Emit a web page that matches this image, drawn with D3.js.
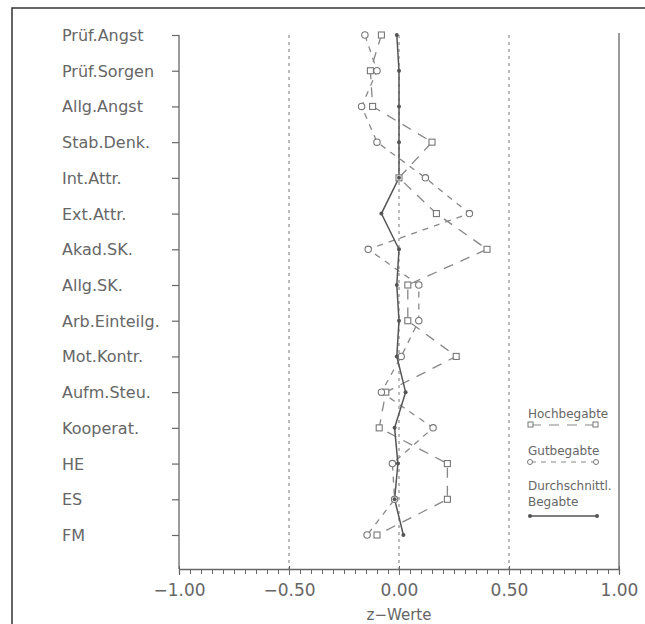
<!DOCTYPE html>
<html>
<head>
<meta charset="utf-8">
<script src="https://cdn.jsdelivr.net/npm/d3@7"></script>
<style>
  body { margin: 0; background: #fff; }
  text { font-family: "DejaVu Sans", sans-serif; fill: #666; }
</style>
</head>
<body>
<svg width="645" height="624"></svg>
<script>
var svg = d3.select("svg");

// skalen, von oben nach unten
var skalen = ["Prüf.Angst", "Prüf.Sorgen", "Allg.Angst", "Stab.Denk.", "Int.Attr.",
  "Ext.Attr.", "Akad.SK.", "Allg.SK.", "Arb.Einteilg.", "Mot.Kontr.",
  "Aufm.Steu.", "Kooperat.", "HE", "ES", "FM"];

var hochbegabte = [-0.08, -0.13, -0.12, 0.15, 0.00, 0.17, 0.40, 0.04, 0.04, 0.26,
  -0.06, -0.09, 0.22, 0.22, -0.10];
var gutbegabte = [-0.155, -0.10, -0.17, -0.10, 0.12, 0.32, -0.14, 0.09, 0.09, 0.01,
  -0.08, 0.155, -0.03, -0.02, -0.145];
var durchschnitt = [-0.01, 0.00, 0.00, 0.00, 0.00, -0.08, 0.00, -0.01, 0.00, -0.01,
  0.03, -0.02, -0.005, -0.02, 0.02];

var majorTicks = [-1, -0.5, 0, 0.5, 1];
var refLines = [-0.5, 0, 0.5];

var x = d3.scaleLinear().domain([-1, 1]).range([179, 619]);
var y = d3.scalePoint().domain(skalen).range([35, 535]);
var yBottom = 569, yTop = 35;

// rahmen
svg.append("rect")
  .attr("x", 12).attr("y", 8)
  .attr("width", 660).attr("height", 640)
  .attr("fill", "none")
  .attr("stroke", "#333")
  .attr("stroke-width", 1.5);

// gestrichelte referenzlinien
svg.selectAll(".ref")
  .data(refLines)
  .enter()
  .append("line")
  .attr("class", "ref")
  .attr("x1", d => x(d)).attr("x2", d => x(d))
  .attr("y1", yTop).attr("y2", yBottom)
  .attr("stroke", "#777")
  .attr("stroke-width", 1)
  .attr("stroke-dasharray", "3,4");

// rechte begrenzung
svg.append("line")
  .attr("x1", x(1)).attr("x2", x(1))
  .attr("y1", 33).attr("y2", yBottom)
  .attr("stroke", "#666").attr("stroke-width", 1.3);

// linke achse
svg.append("line")
  .attr("x1", x(-1)).attr("x2", x(-1))
  .attr("y1", yTop).attr("y2", yBottom)
  .attr("stroke", "#666").attr("stroke-width", 1.3);

var yAxis = svg.append("g")
  .attr("transform", "translate(" + x(-1) + ",0)")
  .call(d3.axisLeft(y).tickSize(7).tickFormat(""));
yAxis.select(".domain").remove();
yAxis.selectAll("line").attr("stroke", "#666").attr("stroke-width", 1.2);

svg.selectAll(".ylab")
  .data(skalen)
  .enter()
  .append("text")
  .attr("class", "ylab")
  .attr("x", 62)
  .attr("y", d => y(d) + 6)
  .style("font-size", "16px")
  .text(d => d);

// x achse
var xMinor = svg.append("g")
  .attr("transform", "translate(0," + yBottom + ")")
  .call(d3.axisBottom(x).tickValues(d3.range(-20, 21).map(d => d / 20)).tickSize(5).tickFormat(""));
xMinor.select(".domain").attr("stroke", "#666").attr("stroke-width", 1.3);
xMinor.selectAll("line").attr("stroke", "#666");

var xMajor = svg.append("g")
  .attr("transform", "translate(0," + yBottom + ")")
  .call(d3.axisBottom(x).tickValues(majorTicks).tickSize(6).tickPadding(9).tickFormat(d3.format(".2f")));
xMajor.select(".domain").remove();
xMajor.selectAll("line").attr("stroke", "#666").attr("y1", -3);
xMajor.selectAll("text")
  .style("font-family", "DejaVu Sans, sans-serif")
  .style("font-size", "17px")
  .attr("fill", "#666");

svg.append("text")
  .attr("x", x(0))
  .attr("y", 620)
  .attr("text-anchor", "middle")
  .style("font-size", "15px")
  .text("z\u2212Werte");

// linien
var line = d3.line()
  .x(d => x(d[0]))
  .y(d => y(d[1]));

function pairs(vals) {
  return vals.map((v, i) => [v, skalen[i]]);
}

svg.append("path")
  .datum(pairs(hochbegabte))
  .attr("d", line)
  .attr("fill", "none")
  .attr("stroke", "#888")
  .attr("stroke-width", 1.3)
  .attr("stroke-dasharray", "10,8");

svg.append("path")
  .datum(pairs(gutbegabte))
  .attr("d", line)
  .attr("fill", "none")
  .attr("stroke", "#888")
  .attr("stroke-width", 1.3)
  .attr("stroke-dasharray", "6,6");

svg.append("path")
  .datum(pairs(durchschnitt))
  .attr("d", line)
  .attr("fill", "none")
  .attr("stroke", "#555")
  .attr("stroke-width", 1.5);

// marker
svg.selectAll(".sq")
  .data(pairs(hochbegabte))
  .enter()
  .append("rect")
  .attr("class", "sq")
  .attr("x", d => x(d[0]) - 3)
  .attr("y", d => y(d[1]) - 3)
  .attr("width", 6).attr("height", 6)
  .attr("fill", "#fff")
  .attr("stroke", "#777")
  .attr("stroke-width", 1.1);

svg.selectAll(".ci")
  .data(pairs(gutbegabte))
  .enter()
  .append("circle")
  .attr("class", "ci")
  .attr("cx", d => x(d[0]))
  .attr("cy", d => y(d[1]))
  .attr("r", 3.2)
  .attr("fill", "#fff")
  .attr("stroke", "#777")
  .attr("stroke-width", 1.1);

svg.selectAll(".dt")
  .data(pairs(durchschnitt))
  .enter()
  .append("circle")
  .attr("class", "dt")
  .attr("cx", d => x(d[0]))
  .attr("cy", d => y(d[1]))
  .attr("r", 2)
  .attr("fill", "#555");

// legende
var lg = svg.append("g");
lg.append("text").attr("x", 528).attr("y", 418).style("font-size", "12px").text("Hochbegabte");
lg.append("line").attr("x1", 531).attr("x2", 595).attr("y1", 425).attr("y2", 425)
  .attr("stroke", "#888").attr("stroke-dasharray", "10,8").attr("stroke-width", 1.2);
lg.append("rect").attr("x", 528).attr("y", 422).attr("width", 5).attr("height", 5)
  .attr("fill", "#fff").attr("stroke", "#777");
lg.append("rect").attr("x", 593).attr("y", 422).attr("width", 5).attr("height", 5)
  .attr("fill", "#fff").attr("stroke", "#777");

lg.append("text").attr("x", 528).attr("y", 455).style("font-size", "12px").text("Gutbegabte");
lg.append("line").attr("x1", 531).attr("x2", 595).attr("y1", 462).attr("y2", 462)
  .attr("stroke", "#888").attr("stroke-dasharray", "5,5").attr("stroke-width", 1.2);
lg.append("circle").attr("cx", 530).attr("cy", 462).attr("r", 2.5)
  .attr("fill", "#fff").attr("stroke", "#777");
lg.append("circle").attr("cx", 596).attr("cy", 462).attr("r", 2.5)
  .attr("fill", "#fff").attr("stroke", "#777");

lg.append("text").attr("x", 528).attr("y", 490).style("font-size", "12px").text("Durchschnittl.");
lg.append("text").attr("x", 528).attr("y", 506).style("font-size", "12px").text("Begabte");
lg.append("line").attr("x1", 530).attr("x2", 597).attr("y1", 516).attr("y2", 516)
  .attr("stroke", "#555").attr("stroke-width", 1.3);
lg.selectAll(".ld")
  .data([530, 597])
  .enter()
  .append("circle")
  .attr("cx", d => d).attr("cy", 516).attr("r", 2)
  .attr("fill", "#555");
</script>
</body>
</html>
